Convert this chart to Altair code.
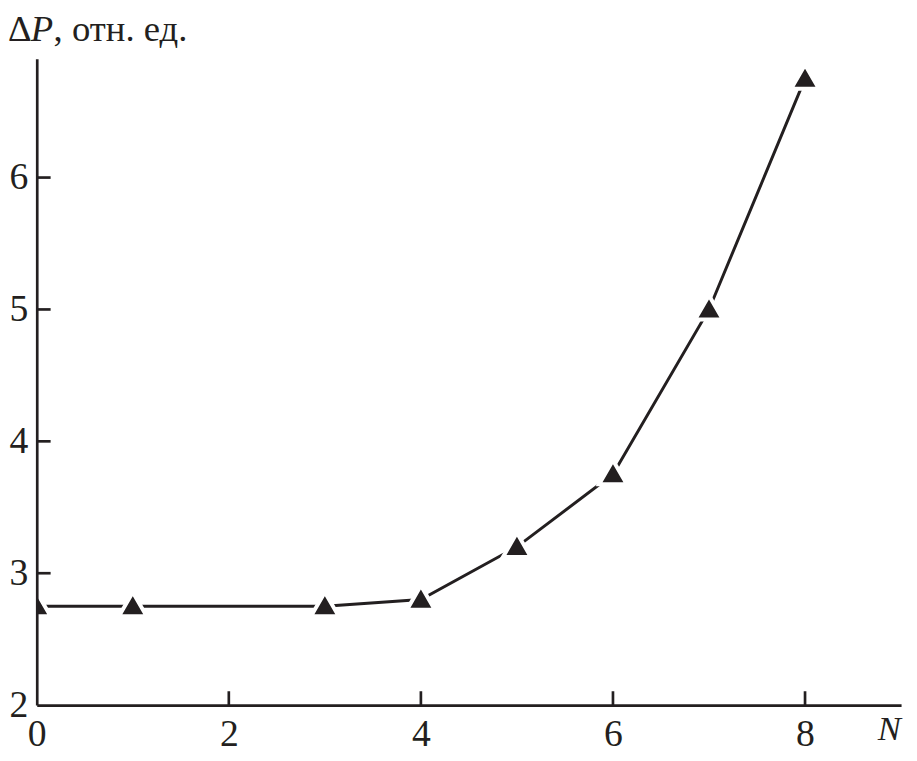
import altair as alt
import pandas as pd

N = [0, 1, 3, 4, 5, 6, 7, 8]
dP = [2.75, 2.75, 2.75, 2.8, 3.2, 3.75, 5.0, 6.75]
x_labels = [0, 2, 4, 6, 8]
y_labels = [2, 3, 4, 5, 6]
x_tick_marks = [2, 4, 6, 8]
y_tick_marks = [3, 4, 5, 6]

W, H = 872, 652
INK = "#231f20"
FONT = "Liberation Serif"

df = pd.DataFrame({"N": N, "dP": dP})
xs = alt.Scale(domain=[0, 9], nice=False, zero=False)
ys = alt.Scale(domain=[2, 6.9], nice=False, zero=False)

xaxis = alt.Axis(values=x_labels, ticks=False, grid=False, domainColor=INK, domainWidth=2.7,
                 labelFont=FONT, labelFontSize=38, labelColor=INK, labelPadding=11,
                 labelFlush=False, labelOverlap=False, zindex=1,
                 title="N", titleFont=FONT, titleFontStyle="italic", titleFontWeight="normal",
                 titleFontSize=35, titleColor=INK, titleX=848, titleY=35,
                 titleAlign="left", titleBaseline="alphabetic")
yaxis = alt.Axis(values=y_labels, ticks=False, grid=False, domainColor=INK, domainWidth=2.7,
                 labelFont=FONT, labelFontSize=38, labelColor=INK, labelPadding=9,
                 labelFlush=False, labelOverlap=False, zindex=1, title="")

ticks_y = pd.DataFrame({"dP": y_tick_marks})
ticks_x = pd.DataFrame({"N": x_tick_marks})

line = alt.Chart(df).mark_line(color=INK, strokeWidth=3).encode(
    x=alt.X("N:Q", scale=xs, axis=xaxis),
    y=alt.Y("dP:Q", scale=ys, axis=yaxis),
)
pts = alt.Chart(df).mark_point(shape="triangle-up", filled=True, color=INK, fill=INK,
                               stroke="white", strokeWidth=4, size=784, opacity=1,
                               clip=True, yOffset=-2).encode(
    x=alt.X("N:Q", scale=xs, axis=xaxis),
    y=alt.Y("dP:Q", scale=ys, axis=yaxis),
)
yt = alt.Chart(ticks_y).mark_rule(color=INK, strokeWidth=2.7).encode(
    y=alt.Y("dP:Q", scale=ys, axis=yaxis), x=alt.value(0), x2=alt.value(14))
xt = alt.Chart(ticks_x).mark_rule(color=INK, strokeWidth=2.7).encode(
    x=alt.X("N:Q", scale=xs, axis=xaxis), y=alt.value(H), y2=alt.value(H - 14))

one = alt.Data(values=[{}])
t1 = alt.Chart(one).mark_text(text="Δ", font=FONT, fontSize=37, color=INK, align="left",
                              baseline="alphabetic").encode(x=alt.value(-29), y=alt.value(-18))
t2 = alt.Chart(one).mark_text(text="P", font=FONT, fontSize=37, fontStyle="italic", color=INK,
                              align="left", baseline="alphabetic").encode(x=alt.value(-6), y=alt.value(-18))
t3 = alt.Chart(one).mark_text(text=", отн. ед.", font=FONT, fontSize=37, color=INK, align="left",
                              baseline="alphabetic").encode(x=alt.value(17), y=alt.value(-18))

chart = alt.layer(line, pts, yt, xt, t1, t2, t3).properties(
    width=W, height=H,
    autosize=alt.AutoSizeParams(type="none"),
    padding={"left": 29, "top": 48, "right": 8, "bottom": 45},
    background="white",
).configure_view(stroke=None)

chart.save("out.html", embed_options={"renderer": "svg", "actions": False})
